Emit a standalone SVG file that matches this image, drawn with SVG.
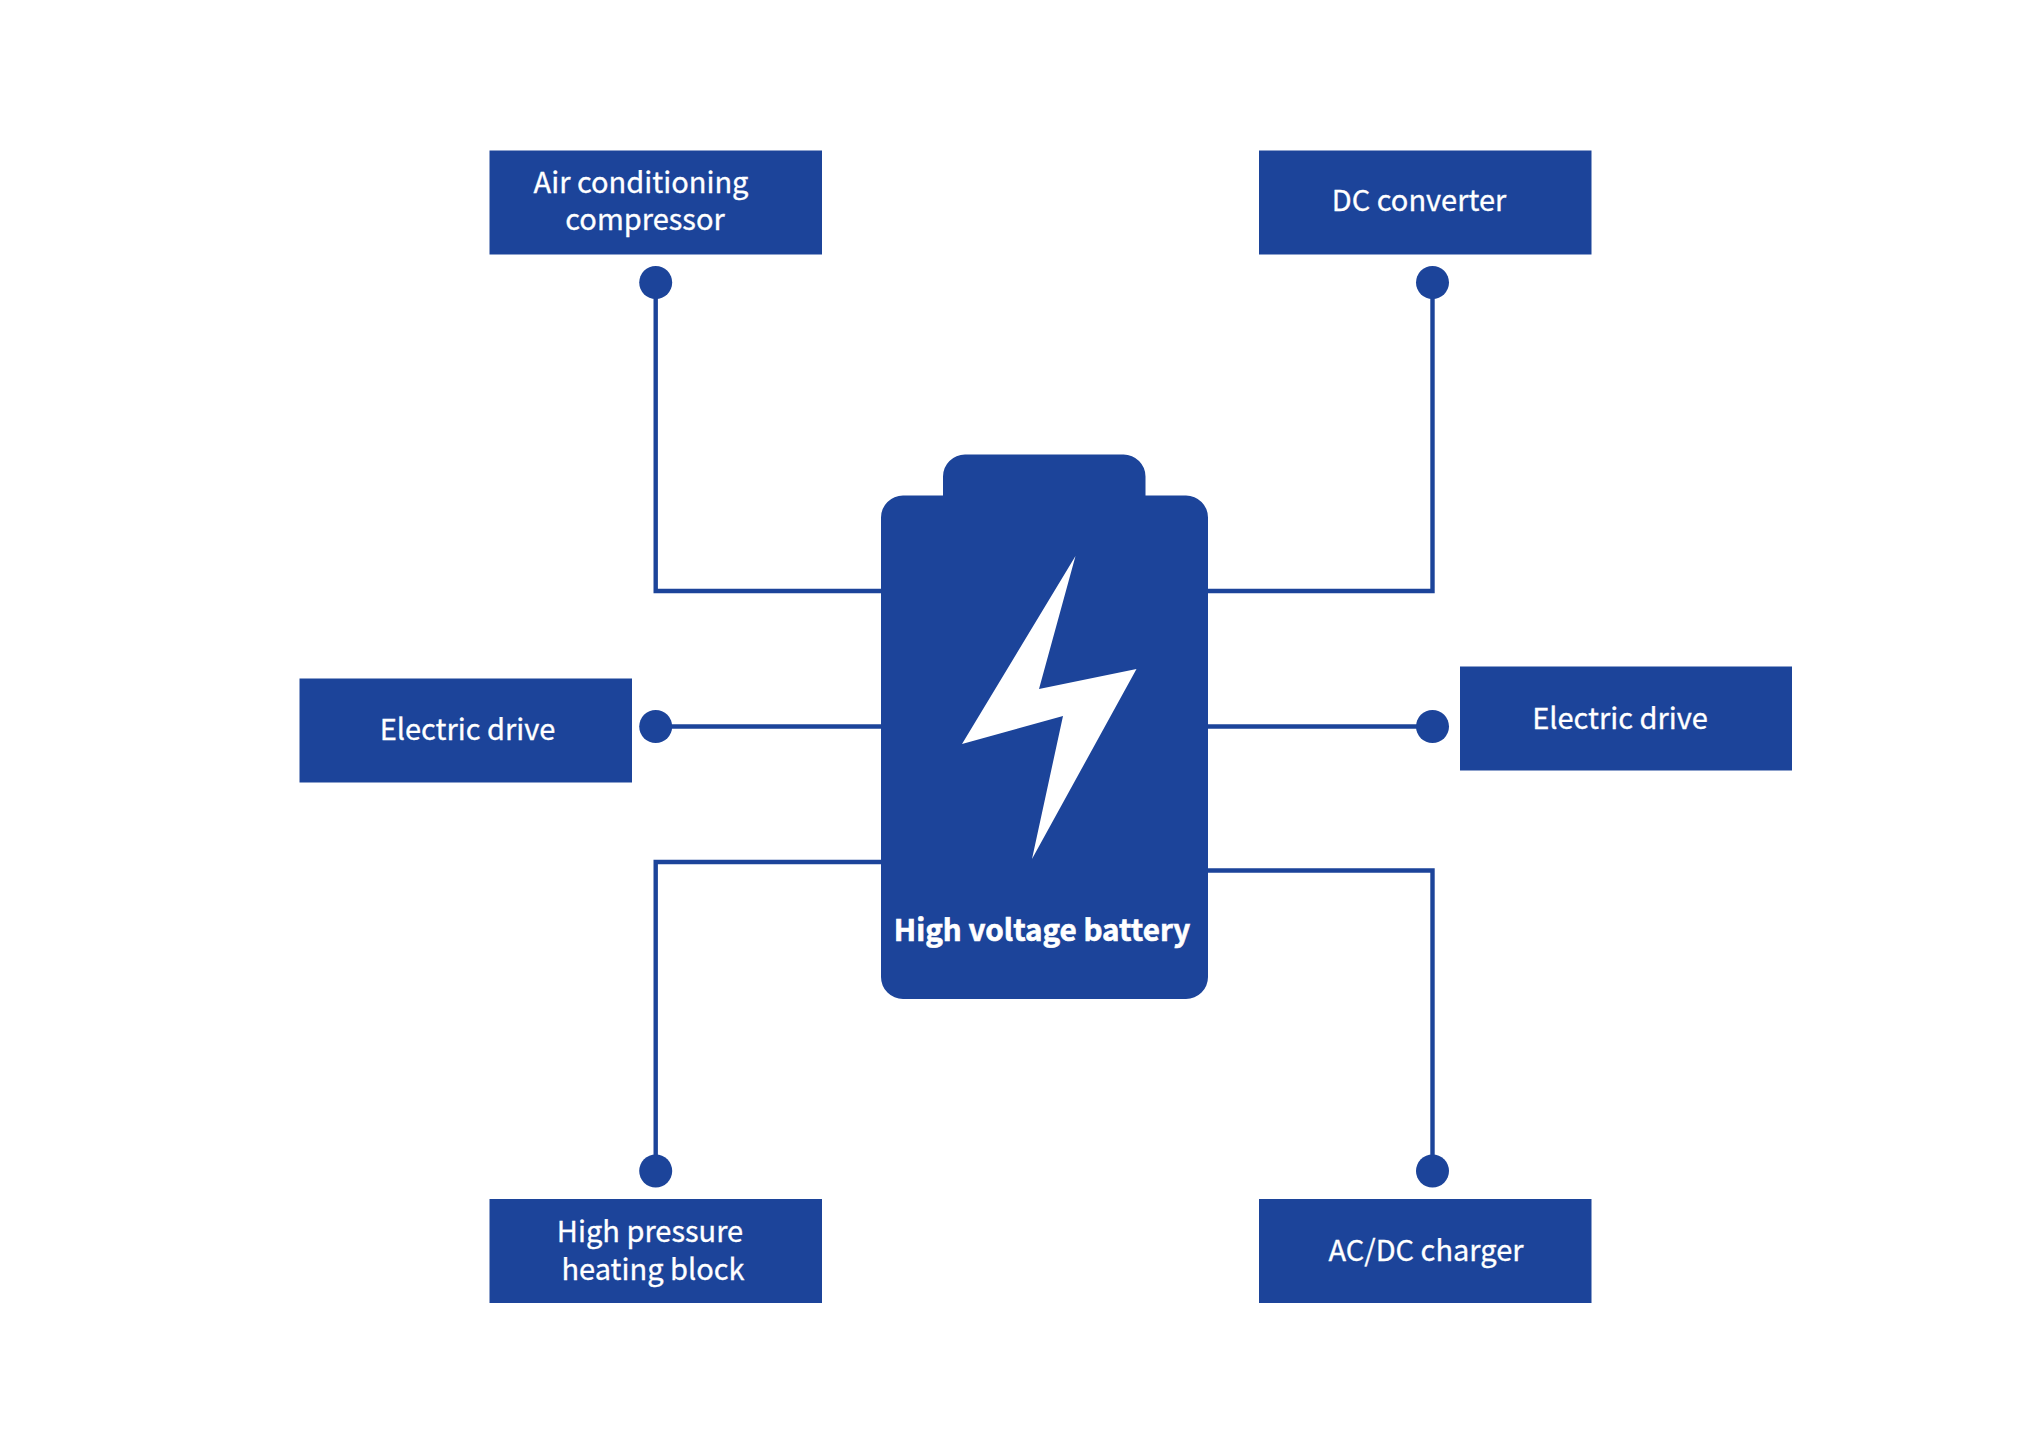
<svg xmlns="http://www.w3.org/2000/svg" width="2042" height="1435" viewBox="0 0 2042 1435">
<style>
.n{fill:#1c449a}
.c{fill:none;stroke:#1c449a;stroke-width:4.4}
text{font-family:"Noto Sans CJK SC","Noto Sans",sans-serif;font-size:29px;fill:#fff;text-anchor:middle;stroke:#fff;stroke-width:.3}
.b{font-weight:700;font-size:29.600px;stroke-width:.6}
</style>
<rect width="2042" height="1435" fill="#fff"/>
<g id="connectors">
<path class="c" d="M655.7 282V591H882"/>
<path class="c" d="M1432.5 282V591H1207"/>
<path class="c" d="M655.7 726.500H882"/>
<path class="c" d="M1432.5 726.500H1207"/>
<path class="c" d="M655.7 1171V862H882"/>
<path class="c" d="M1432.5 1171V870.5H1207"/>
<circle class="n" cx="655.7" cy="282.500" r="16.5"/>
<circle class="n" cx="1432.5" cy="282.500" r="16.5"/>
<circle class="n" cx="655.7" cy="726.500" r="16.5"/>
<circle class="n" cx="1432.5" cy="726.500" r="16.5"/>
<circle class="n" cx="655.7" cy="1171" r="16.5"/>
<circle class="n" cx="1432.5" cy="1171" r="16.5"/>
</g>
<g id="battery">
<path class="n" d="M943 495.500V476.500a22 22 0 0 1 22-22H1123.500a22 22 0 0 1 22 22V495.500H1186a22 22 0 0 1 22 22V977a22 22 0 0 1-22 22H903a22 22 0 0 1-22-22V517.500a22 22 0 0 1 22-22Z"/>
<polygon fill="#fff" points="1075.500,556 1039,689 1136.500,669 1032,859 1063,716 962,744"/>
<text class="b" x="1042" y="940.500">High voltage battery</text>
</g>
<g id="air-conditioning-compressor">
<rect class="n" x="489.500" y="150.500" width="332.500" height="104"/>
<text x="641" y="192.500">Air conditioning</text>
<text x="645" y="229.500">compressor</text>
</g>
<g id="dc-converter">
<rect class="n" x="1259" y="150.500" width="332.500" height="104"/>
<text x="1419" y="211">DC converter</text>
</g>
<g id="electric-drive-left">
<rect class="n" x="299.500" y="678.500" width="332.500" height="104"/>
<text x="467.500" y="739.500">Electric drive</text>
</g>
<g id="electric-drive-right">
<rect class="n" x="1460" y="666.500" width="332" height="104"/>
<text x="1620" y="728.500">Electric drive</text>
</g>
<g id="high-pressure-heating-block">
<rect class="n" x="489.500" y="1199" width="332.500" height="104"/>
<text x="650" y="1242">High pressure</text>
<text x="653" y="1279.500">heating block</text>
</g>
<g id="ac-dc-charger">
<rect class="n" x="1259" y="1199" width="332.500" height="104"/>
<text x="1426" y="1260.500">AC/DC charger</text>
</g>
</svg>
